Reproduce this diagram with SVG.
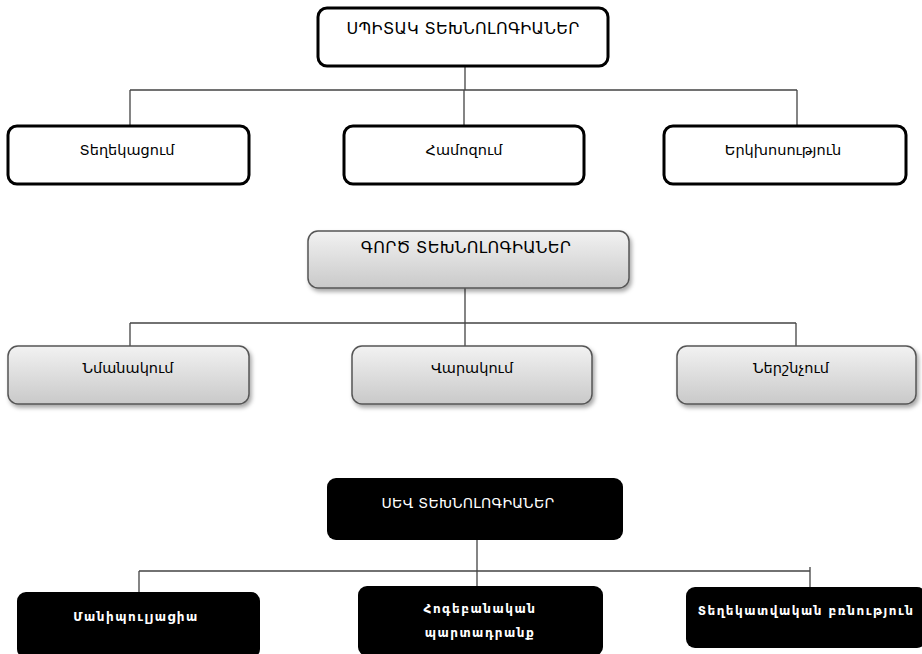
<svg xmlns="http://www.w3.org/2000/svg" width="922" height="654" viewBox="0 0 922 654">
<defs>
<linearGradient id="g" x1="0" y1="0" x2="0" y2="1">
<stop offset="0" stop-color="#f2f2f2"/>
<stop offset="1" stop-color="#c9c9c9"/>
</linearGradient>
<filter id="sh" x="-10%" y="-20%" width="125%" height="150%">
<feDropShadow dx="2" dy="3" stdDeviation="2" flood-color="#000" flood-opacity="0.35"/>
</filter>
<style>
.w{fill:#fff;stroke:#000;stroke-width:3}
.gr{fill:url(#g);stroke:#555;stroke-width:1.5;filter:url(#sh)}
.bk{fill:#000;stroke:none}
.t{font-family:"DejaVu Sans","Noto Sans",sans-serif;font-size:14.5px;fill:#000;text-anchor:middle}
.tt{font-family:"DejaVu Sans","Noto Sans",sans-serif;font-size:16px;fill:#000;text-anchor:middle;letter-spacing:0.3px}
.tw{font-family:"DejaVu Sans","Noto Sans",sans-serif;font-size:14px;fill:#fff;text-anchor:middle;letter-spacing:0.3px}
.tb{font-family:"DejaVu Sans","Noto Sans",sans-serif;font-size:12px;font-weight:bold;fill:#fff;text-anchor:middle;letter-spacing:1.5px}
.c{fill:none;stroke:#444;stroke-width:1.3}
</style>
</defs>
<g id="connectors">
<path class="c" d="M465 67V90M130 90H797M130 90V125M464 90V125M797 90V125"/>
<path class="c" d="M465 288V323M130 323H796M130 323V346M465 323V346M796 323V346"/>
<path class="c" d="M477 540V571M139 571H810M139 571V592M477 571V586M810 567V587"/>
</g>
<g id="white-tech">
<rect class="w" x="318" y="8" width="290" height="58" rx="9"/>
<text class="tt" x="463" y="34">ՍՊԻՏԱԿ ՏԵԽՆՈԼՈԳԻԱՆԵՐ</text>
</g>
<g id="informing">
<rect class="w" x="8" y="126" width="241" height="58" rx="9"/>
<text class="t" x="127" y="155">Տեղեկացում</text>
</g>
<g id="persuasion">
<rect class="w" x="344" y="126" width="240" height="58" rx="9"/>
<text class="t" x="464" y="155">Համոզում</text>
</g>
<g id="dialogue">
<rect class="w" x="664" y="126" width="242" height="58" rx="9"/>
<text class="t" x="783" y="155">Երկխոսություն</text>
</g>
<g id="gray-tech">
<rect class="gr" x="308" y="231" width="321" height="57" rx="10"/>
<text class="tt" x="466" y="253">ԳՈՐԾ ՏԵԽՆՈԼՈԳԻԱՆԵՐ</text>
</g>
<g id="imitation">
<rect class="gr" x="8" y="346" width="241" height="58" rx="10"/>
<text class="t" x="128" y="373">Նմանակում</text>
</g>
<g id="infection">
<rect class="gr" x="352" y="346" width="240" height="58" rx="10"/>
<text class="t" x="472" y="373">Վարակում</text>
</g>
<g id="suggestion">
<rect class="gr" x="677" y="346" width="239" height="58" rx="10"/>
<text class="t" x="791" y="373">Ներշնչում</text>
</g>
<g id="black-tech">
<rect class="bk" x="327" y="478" width="296" height="62" rx="9"/>
<text class="tw" x="468" y="508">ՍԵՎ ՏԵԽՆՈԼՈԳԻԱՆԵՐ</text>
</g>
<g id="manipulation">
<rect class="bk" x="17" y="592" width="243" height="66" rx="9"/>
<text class="tb" x="136" y="621">Մանիպուլյացիա</text>
</g>
<g id="psych-coercion">
<rect class="bk" x="358" y="586" width="245" height="70" rx="9"/>
<text class="tb" x="480" y="613">Հոգեբանական</text>
<text class="tb" x="480" y="637">պարտադրանք</text>
</g>
<g id="info-violence">
<rect class="bk" x="686" y="587" width="240" height="61" rx="9"/>
<text class="tb" x="806" y="615" letter-spacing="1">Տեղեկատվական բռնություն</text>
</g>
</svg>
